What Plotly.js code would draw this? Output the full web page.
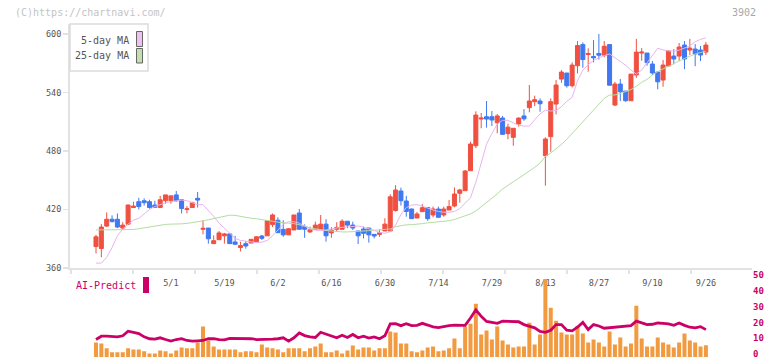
<!DOCTYPE html>
<html><head><meta charset="utf-8">
<script src="https://cdn.plot.ly/plotly-3.0.1.min.js"></script>
<style>html,body{margin:0;padding:0;background:#fff;}#chart{width:772px;height:361px;}</style>
</head><body><div id="chart"></div>
<script>
// ---- data (one entry per trading day, oldest first) ----
const openP = [382,380,403,410,410,401,405,422,428,429,428,424.6,422,429,429,435,430,420,422,431.5,
399.7,401,385,389,393,395,386.7,381,385,385.6,387,392.8,393,404.5,409,399.7,394,399,416.4,402.4,
397,399.7,399.7,405,396,399.7,399.7,408,404,398,400,401,394.5,394.5,398,398,419,439,428.7,420.5,
411.3,417.8,422,414.4,420.5,414.4,419.5,423.6,436.6,439.3,459.8,485.4,512.8,515.2,515.2,509,513.8,497.8,494,507.7,
516,524.5,530.6,531.3,475.2,494.7,528.2,553.8,560,547,567.5,589.2,579,577,580,578.3,589.2,527.2,548.7,541.5,
531.6,558,580.5,580.5,569.2,561,552.8,567.2,577.4,577.4,588.7,583.6,584.6,583.6,581.5];
const highP = [394,405,417,414,416,407,425,428,432,431.5,430,429,434,435,434,439,430,423.6,428,438,
409,401,393.5,398,396,395,393,387,387.7,389.5,392.5,394,408.5,416,412,409,401,414.4,420.5,404.8,
402.4,407.5,414.4,410,402,407,410,408,407.5,398,402.4,401,394.5,399.7,411,435.6,445,442.4,434,421,
417.4,425.6,422,423,423,423,429.7,442.7,441.3,460.5,489.6,520.7,519,531.3,521,518,516,508,503.3,514.5,
523,547.7,536.8,534,494,534,552.8,563,560,571,592.8,591.5,585.3,593.8,600,592.8,589.4,551,553.8,541.5,
559,595,585.6,580.5,572.3,561,573.3,583,584.6,590.8,592.8,595,589.7,587.7,591.8];
const lowP = [375,371,402,407,401,399,404,422,420,424,421,422,422,426,426,428,416,416,422,422,
394.5,385,385,389,385,385,384,377,379.8,385.6,387,388.7,393,402,396,392,393.8,399,399.7,391,
396,399.7,399.7,387,391,397.3,399.7,400.7,399,384.6,390.4,386,390.4,392,398,398,417.8,424,412.6,410.6,
411,417.8,408.5,412,412,412.6,419.5,422.2,427,439.3,459.8,483,503.3,504,505.6,498.2,497,492,485.4,505,
511,519.7,526,520.3,444.4,479.3,517.6,550,545,545.3,559.6,565.5,561.4,571,573.8,576.2,547.3,526,531.3,530.6,
531.6,555,572.6,567.5,558,543.3,546,567,569,572.6,564,578.5,567,572.3,578.5];
const closeP = [392,402,410,407.5,402,404,424.6,423.5,423,427,422,422.2,430,435,434,429,421,420.7,427,429.7,
400.7,390,388,396,395,385,384.3,383,382.6,389.4,392,390.4,408.5,414.4,396.2,394,400.3,414.4,399.7,399.7,
399.3,404,405,393,399,401.7,408,404,401,393,395.6,394,392.8,396.2,405,433,440,429,418,410.6,
415.4,421.9,410.6,420.5,412,420.5,423,435.9,440,459.5,487.2,516.9,513.8,512.8,511.8,516,497.1,504.5,503.3,513.8,
513,531.3,532.7,528.5,492.3,530.6,547.7,561,547,568.2,588.2,573.8,580,575.6,578.3,587.5,547.5,548.7,540.8,531.6,
558.9,581.5,581.5,570.6,560,551,568.2,582.6,574.4,586.7,574.4,585.6,579.5,578.5,588.7];
const ma5 = [365,365,371,381,393,400,405,409,411,415.5,420,423,425,427,428,429,429.7,429,427,425,
425,419.5,413,406,401,396,390.5,388.3,387.6,386.8,386,386.4,388.4,393,399,404.8,407.5,407.5,406,403,
400,398.8,398.3,399,400.2,401,401.7,402,402.4,403,402,400.5,398.5,396.5,395.6,397.3,404,415,422,424.5,
425,423.5,421.3,419.5,418,417.2,417.2,418,421,426,432,448,468.5,487,498,507.5,511.5,511.5,509,506.5,
505.6,505.6,512,518,522,521,521.5,525.5,531,535,552,563,568.5,573,575.5,578,579.5,575.5,572,568,
563,559,563,570.5,579,585.5,583.6,582.7,582.6,583.5,585.6,588,592,594.5,596];
const ma25 = [399,399,399,399,399,399,399,399.5,400.3,401.3,402.3,403,404,404.7,405,405,405.3,405.8,406.5,407.2,
408.3,409.5,410.7,412,413.2,414.2,414,412.8,411.8,411,410.5,409.8,409.3,408,407,406.2,406,405.5,404.3,403.2,
401,400,399,398.5,398,397.3,397,397,397.2,397.3,397.7,398.3,398.7,399,399,400,402.4,403.6,404.3,404.5,
404.7,405.5,406.3,406.8,407.2,407.8,408.5,409.7,411.5,413.3,415.5,418.5,423,426.5,431,436,441,445,448.5,452,
455.5,459.5,463.3,467.5,474.5,478,482,486.7,492,498,504,510,515.5,521,527.5,534,537.5,537.5,539,541,
543,546.5,550.5,553.5,558,561.5,564,566.8,569.7,572.3,575,577.5,579.5,581,582.6];
const volume = [9.2,8.6,5.5,3,3,3,5.5,4.8,4.8,3.6,2.3,2.3,4.2,3.6,2.3,4.2,6.1,5.5,5.5,9.2,
19.3,10.5,6.7,4.8,4.8,4.8,4.8,3,3.6,3.6,3,8,6.1,5.5,4.8,3,5.5,5.5,5.5,3.6,
5.5,6.7,8.6,3,3,4.2,2.3,4.2,7.3,4.8,6.1,6.1,4.2,5.5,5.5,16.2,15.5,8.6,8.6,3.6,
3,4.2,6.1,6.7,3.6,4.2,5.5,11.8,5.5,19.3,21.2,33.8,14.3,16.8,11.1,19.3,10.5,8,6.1,6.7,
6.7,21.8,8,14.3,49.5,31.3,23.1,15.5,14.3,14.3,19.9,14.9,9.2,11.1,9.2,6.7,16.2,8,12.4,6.7,
8.6,32.5,11.8,6.7,6.7,12.4,9.2,8,6.1,9.2,14.9,10.5,9.2,6.7,7.4];
const aiPredict = [11.1,13.2,13.2,13,12.8,13.5,16.4,15.7,14.9,12.8,11.6,11.4,12.2,11.1,10.1,11.1,11.6,10.5,10.1,10.3,
10.5,11.6,11.6,11.1,10.9,11.8,11.8,11.8,11.8,11.6,11.1,11.1,10.9,11.3,11.6,12.2,10.1,12.2,15.3,13.6,
12.8,12.4,15.7,14.5,13.2,12.2,13.8,12.4,14.3,12.2,13.2,12,12.8,11.6,13.5,21,21.2,19.9,21.2,19.9,
20.1,21.4,20.3,19.1,18.7,19.5,19.9,20.3,20.3,20.1,24.8,30,25.8,22.6,22,21.4,22.8,22.6,22.6,22.4,
20.6,19.5,18.5,16.2,15.7,17,20.6,20.6,17,16.6,18.9,22,17.4,20.6,19.7,18.3,18.7,19.1,19.5,19.5,
19.9,22.8,21.8,20.6,20.8,21.6,21.4,21,20.1,21.6,20.1,18.9,18.5,19.3,17.4];
const tickIdx = [14,24,34,44,54,64,74,84,94,104,114];
const tickLabels = ['5/1','5/19','6/2','6/16','6/30','7/14','7/29','8/13','8/27','9/10','9/26'];
const priceTicks = [360,420,480,540,600];
const aiTicks = [0,10,20,30,40,50];
const legendNames = ['5-day MA','25-day MA'];
const code = '3902';

// ---- layout helpers (pixel -> paper) ----
const W = 772, H = 361;
const px = v => v / W, py = v => 1 - v / H;
const dayIdx = closeP.map((_, i) => i);

const RED = '#f05040', BLUE = '#4078f0', PINK = '#e8b4ee', GREEN = '#b4dca4', MAG = '#cc0066', ORANGE = '#f29a40';
const MONO = 'DejaVu Sans Mono, monospace';

const traces = [
  {type:'bar', x:dayIdx, y:volume, xaxis:'x', yaxis:'y2', marker:{color:ORANGE}, hoverinfo:'skip'},
  {type:'scatter', mode:'lines', x:dayIdx, y:aiPredict, xaxis:'x', yaxis:'y2', line:{color:MAG, width:2.8}, hoverinfo:'skip'},
  {type:'scatter', mode:'lines', x:dayIdx, y:ma25, xaxis:'x', yaxis:'y', line:{color:GREEN, width:1}, hoverinfo:'skip'},
  {type:'scatter', mode:'lines', x:dayIdx, y:ma5, xaxis:'x', yaxis:'y', line:{color:PINK, width:1}, hoverinfo:'skip'},
  {type:'candlestick', x:dayIdx, open:openP, high:highP, low:lowP, close:closeP, xaxis:'x', yaxis:'y',
   increasing:{line:{color:RED, width:1}, fillcolor:RED},
   decreasing:{line:{color:BLUE, width:1}, fillcolor:BLUE},
   whiskerwidth:0, hoverinfo:'skip'},
  {type:'scatter', mode:'markers', x:[], y:[], xaxis:'x2', yaxis:'y', hoverinfo:'skip'}
];

const layout = {
  width: W, height: H,
  margin: {l:0, r:0, t:0, b:0},
  paper_bgcolor: '#fff', plot_bgcolor: '#fff',
  showlegend: false, hovermode: false,
  boxgap: 0.25, boxgroupgap: 0, bargap: 0.25,
  xaxis: {
    domain: [px(70), px(752)], range: [-4.86, 122.62], anchor: 'y',
    tickmode: 'array', tickvals: tickIdx, ticktext: tickLabels,
    ticks: '', ticklabelstandoff: 6,
    tickfont: {family: MONO, size: 8.5, color: '#555'},
    showline: true, linecolor: '#e2e2e2', linewidth: 2,
    showgrid: false, zeroline: false, rangeslider: {visible: false}, fixedrange: true
  },
  xaxis2: {
    domain: [px(70), px(752)], range: [0, 682], anchor: 'y', overlaying: 'x', side: 'bottom',
    tickmode: 'linear', tick0: 63, dtick: 62, ticks: 'outside', ticklen: 5, tickwidth: 1.5, tickcolor: '#e2e2e2',
    showticklabels: false, showline: false, showgrid: false, zeroline: false
  },
  yaxis: {
    domain: [py(268), py(24)], range: [360, 610.3], anchor: 'x',
    tickmode: 'array', tickvals: priceTicks,
    ticks: 'outside', ticklen: 5, tickwidth: 1.5, tickcolor: '#e2e2e2',
    tickfont: {family: MONO, size: 8.5, color: '#555'},
    showline: true, linecolor: '#e2e2e2', linewidth: 2,
    showgrid: false, zeroline: false, fixedrange: true
  },
  yaxis2: {
    domain: [py(357), py(278.3)], range: [0, 50], anchor: 'x', side: 'right',
    tickmode: 'array', tickvals: aiTicks, ticks: '', ticklabeloverflow: 'allow', ticklabelshift: -3,
    tickfont: {family: MONO, size: 9, color: MAG, weight: 'bold'},
    showline: false, showgrid: false, zeroline: false, fixedrange: true
  },
  shapes: [
    {type:'rect', xref:'paper', yref:'paper', x0:px(70), x1:px(148), y0:py(71), y1:py(24), line:{color:'#dcdcdc', width:1.5}, fillcolor:'#fff'},
    {type:'rect', xref:'paper', yref:'paper', x0:px(136.5), x1:px(142.5), y0:py(46.5), y1:py(31.5), line:{color:'#666', width:1}, fillcolor:'#f0c0f0'},
    {type:'rect', xref:'paper', yref:'paper', x0:px(136.5), x1:px(142.5), y0:py(63), y1:py(48.5), line:{color:'#666', width:1}, fillcolor:'#c0e0b0'},
    {type:'rect', xref:'paper', yref:'paper', x0:px(143), x1:px(149), y0:py(293), y1:py(277), line:{width:0}, fillcolor:MAG}
  ],
  annotations: [
    {xref:'paper', yref:'paper', x:px(13), y:py(12), xanchor:'left', yanchor:'middle', showarrow:false,
     text:'(C)https://chartnavi.com/', font:{family:MONO, size:10, color:'#c4c4c4'}},
    {xref:'paper', yref:'paper', x:px(758), y:py(12), xanchor:'right', yanchor:'middle', showarrow:false,
     text:code, font:{family:MONO, size:10, color:'#a8a8a8'}},
    {xref:'paper', yref:'paper', x:px(131), y:py(40), xanchor:'right', yanchor:'middle', showarrow:false,
     text:legendNames[0], font:{family:MONO, size:10, color:'#555'}},
    {xref:'paper', yref:'paper', x:px(131), y:py(56), xanchor:'right', yanchor:'middle', showarrow:false,
     text:legendNames[1], font:{family:MONO, size:10, color:'#555'}},
    {xref:'paper', yref:'paper', x:px(74), y:py(285), xanchor:'left', yanchor:'middle', showarrow:false,
     text:'AI-Predict', font:{family:MONO, size:10, color:MAG}}
  ]
};

Plotly.newPlot('chart', traces, layout, {staticPlot: true, displayModeBar: false});
</script>
</body></html>
